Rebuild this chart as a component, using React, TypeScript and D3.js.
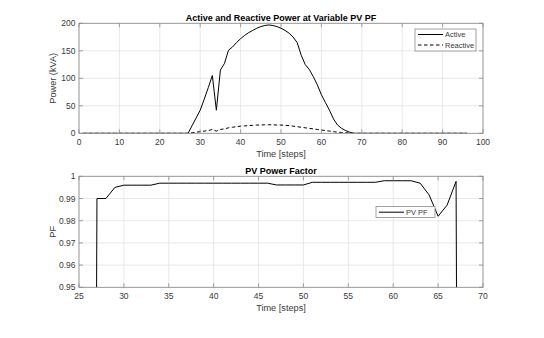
import React from "react";
import * as d3 from "d3";

// time steps for the power plot
const steps = d3.range(1, 97);

// active power per step (kVA)
const activePower = [
  0, 0, 0, 0, 0, 0, 0, 0, 0, 0,
  0, 0, 0, 0, 0, 0, 0, 0, 0, 0,
  0, 0, 0, 0, 0, 0, 0, 14, 28, 42,
  62, 83, 105, 42, 115, 127, 151, 157, 165, 172,
  178, 183, 187, 191, 194, 196, 197, 196, 194, 191,
  187, 182, 175, 165, 142, 125, 116, 103, 88, 70,
  56, 42, 26, 15, 9, 5, 2, 0, 0, 0,
  0, 0, 0, 0, 0, 0, 0, 0, 0, 0,
  0, 0, 0, 0, 0, 0, 0, 0, 0, 0,
  0, 0, 0, 0, 0, 0,
];

// reactive power per step (kVA)
const reactivePower = [
  0, 0, 0, 0, 0, 0, 0, 0, 0, 0,
  0, 0, 0, 0, 0, 0, 0, 0, 0, 0,
  0, 0, 0, 0, 0, 0, 0, 1, 2, 3,
  4, 5, 7, 4, 7, 8, 10, 11, 12, 13,
  13.5, 14, 14.5, 15, 15, 15.5, 15.5, 15.5, 15, 15,
  14.5, 14, 13, 12, 11, 10, 9, 8, 7, 6,
  5, 4, 3, 2, 1.5, 1, 0.5, 0, 0, 0,
  0, 0, 0, 0, 0, 0, 0, 0, 0, 0,
  0, 0, 0, 0, 0, 0, 0, 0, 0, 0,
  0, 0, 0, 0, 0, 0,
];

// power factor, steps 26..68
const pfSteps = d3.range(26, 69);
const pfValues = [
  0, 0.99, 0.99, 0.995, 0.996, 0.996, 0.996, 0.996,
  0.9969, 0.9969, 0.9969, 0.9969, 0.9969, 0.9969, 0.9969, 0.9969, 0.9969, 0.9969, 0.9969, 0.9969, 0.9969,
  0.9961, 0.9961, 0.9961, 0.9961,
  0.9973, 0.9973, 0.9973, 0.9973, 0.9973, 0.9973, 0.9973, 0.9973,
  0.998, 0.998, 0.998, 0.998,
  0.9969, 0.9916, 0.982, 0.987, 0.9977, 0,
];

const powerXTicks = [0, 10, 20, 30, 40, 50, 60, 70, 80, 90, 100];
const powerYTicks = [0, 50, 100, 150, 200];
const pfXTicks = [25, 30, 35, 40, 45, 50, 55, 60, 65, 70];
const pfYTicks = [0.95, 0.96, 0.97, 0.98, 0.99, 1];

const FONT = "'Liberation Sans', Arial, Helvetica, sans-serif";
const AXIS = "#8a8a8a";
const GRID = "#e3e3e3";
const TEXT = "#3a3a3a";

type PanelProps = {
  x: d3.ScaleLinear<number, number>;
  y: d3.ScaleLinear<number, number>;
  xTicks: number[];
  yTicks: number[];
  yFormat: (v: number) => string;
  title: string;
  yLabel: string;
  titleY: number;
  clipId: string;
  children: React.ReactNode;
};

const Panel = ({ x, y, xTicks, yTicks, yFormat, title, yLabel, titleY, clipId, children }: PanelProps) => {
  const [x0, x1] = x.range();
  const [y0, y1] = y.range(); // y0 bottom, y1 top
  const tick = 4;
  return (
    <g>
      <defs>
        <clipPath id={clipId}>
          <rect x={x0} y={y1} width={x1 - x0} height={y0 - y1} />
        </clipPath>
      </defs>
      <rect x={x0} y={y1} width={x1 - x0} height={y0 - y1} fill="#fff" />
      {/* grid */}
      {xTicks.map((t) => (
        <line key={"gx" + t} x1={x(t)} x2={x(t)} y1={y1} y2={y0} stroke={GRID} strokeWidth={0.8} />
      ))}
      {yTicks.map((t) => (
        <line key={"gy" + t} x1={x0} x2={x1} y1={y(t)} y2={y(t)} stroke={GRID} strokeWidth={0.8} />
      ))}
      <g clipPath={`url(#${clipId})`}>{children}</g>
      {/* box and inward ticks */}
      <rect x={x0} y={y1} width={x1 - x0} height={y0 - y1} fill="none" stroke={AXIS} strokeWidth={0.8} />
      {xTicks.map((t) => (
        <g key={"tx" + t}>
          <line x1={x(t)} x2={x(t)} y1={y0} y2={y0 - tick} stroke={AXIS} strokeWidth={0.8} />
          <line x1={x(t)} x2={x(t)} y1={y1} y2={y1 + tick} stroke={AXIS} strokeWidth={0.8} />
          <text x={x(t)} y={y0 + 11.5} textAnchor="middle" fontSize={8.5} fill={TEXT} fontFamily={FONT}>
            {t}
          </text>
        </g>
      ))}
      {yTicks.map((t) => (
        <g key={"ty" + t}>
          <line x1={x0} x2={x0 + tick} y1={y(t)} y2={y(t)} stroke={AXIS} strokeWidth={0.8} />
          <line x1={x1} x2={x1 - tick} y1={y(t)} y2={y(t)} stroke={AXIS} strokeWidth={0.8} />
          <text x={x0 - 3.5} y={y(t) + 3} textAnchor="end" fontSize={8.5} fill={TEXT} fontFamily={FONT}>
            {yFormat(t)}
          </text>
        </g>
      ))}
      <text x={(x0 + x1) / 2} y={titleY} textAnchor="middle" fontSize={9} fontWeight="bold" fill="#000" fontFamily={FONT}>
        {title}
      </text>
      <text x={(x0 + x1) / 2} y={y0 + 23.5} textAnchor="middle" fontSize={9.2} fill={TEXT} fontFamily={FONT}>
        Time [steps]
      </text>
      <text
        transform={`translate(${x0 - 23},${(y0 + y1) / 2}) rotate(-90)`}
        textAnchor="middle"
        fontSize={9.2}
        fill={TEXT}
        fontFamily={FONT}
      >
        {yLabel}
      </text>
    </g>
  );
};

export default function App() {
  const xPow = d3.scaleLinear().domain([0, 100]).range([79, 483]);
  const yPow = d3.scaleLinear().domain([0, 200]).range([133.3, 23.3]);
  const xPf = d3.scaleLinear().domain([25, 70]).range([79, 483]);
  const yPf = d3.scaleLinear().domain([0.95, 1]).range([287.3, 176.3]);

  const powLine = (vals: number[]) =>
    d3
      .line<number>()
      .x((_, i) => xPow(steps[i]))
      .y((d) => yPow(d))(vals) || "";

  const pfLine =
    d3
      .line<number>()
      .x((_, i) => xPf(pfSteps[i]))
      .y((d) => yPf(d))(pfValues) || "";

  return (
    <svg width={544} height={338} style={{ position: "absolute", left: 0, top: 0, background: "#fff" }}>
      <rect width={544} height={338} fill="#fff" />
      <Panel
        x={xPow}
        y={yPow}
        xTicks={powerXTicks}
        yTicks={powerYTicks}
        yFormat={(v) => String(v)}
        title="Active and Reactive Power at Variable PV PF"
        yLabel="Power (kVA)"
        titleY={21}
        clipId="clipPow"
      >
        <path d={powLine(activePower)} fill="none" stroke="#000" strokeWidth={1} />
        <path d={powLine(reactivePower)} fill="none" stroke="#000" strokeWidth={1} strokeDasharray="3.5,2.5" />
      </Panel>
      <Panel
        x={xPf}
        y={yPf}
        xTicks={pfXTicks}
        yTicks={pfYTicks}
        yFormat={(v) => (v === 1 ? "1" : v.toFixed(2))}
        title="PV Power Factor"
        yLabel="PF"
        titleY={173.5}
        clipId="clipPf"
      >
        <path d={pfLine} fill="none" stroke="#000" strokeWidth={1} />
      </Panel>

      {/* legend: power */}
      <g fontFamily={FONT} fontSize={7.5} fill={TEXT}>
        <rect x={415} y={29} width={61} height={22} fill="#fff" stroke={AXIS} strokeWidth={0.8} />
        <line x1={418} x2={443} y1={34.5} y2={34.5} stroke="#000" strokeWidth={1} />
        <text x={445} y={37}>Active</text>
        <line x1={418} x2={443} y1={45} y2={45} stroke="#000" strokeWidth={1} strokeDasharray="3.5,2.5" />
        <text x={445} y={47.5}>Reactive</text>
      </g>

      {/* legend: pf */}
      <g fontFamily={FONT} fontSize={7.5} fill={TEXT}>
        <rect x={376} y={206.5} width={59} height={11} fill="#fff" stroke={AXIS} strokeWidth={0.8} />
        <line x1={379} x2={404} y1={212.2} y2={212.2} stroke="#000" strokeWidth={1} />
        <text x={406} y={214.8}>PV PF</text>
      </g>
    </svg>
  );
}
